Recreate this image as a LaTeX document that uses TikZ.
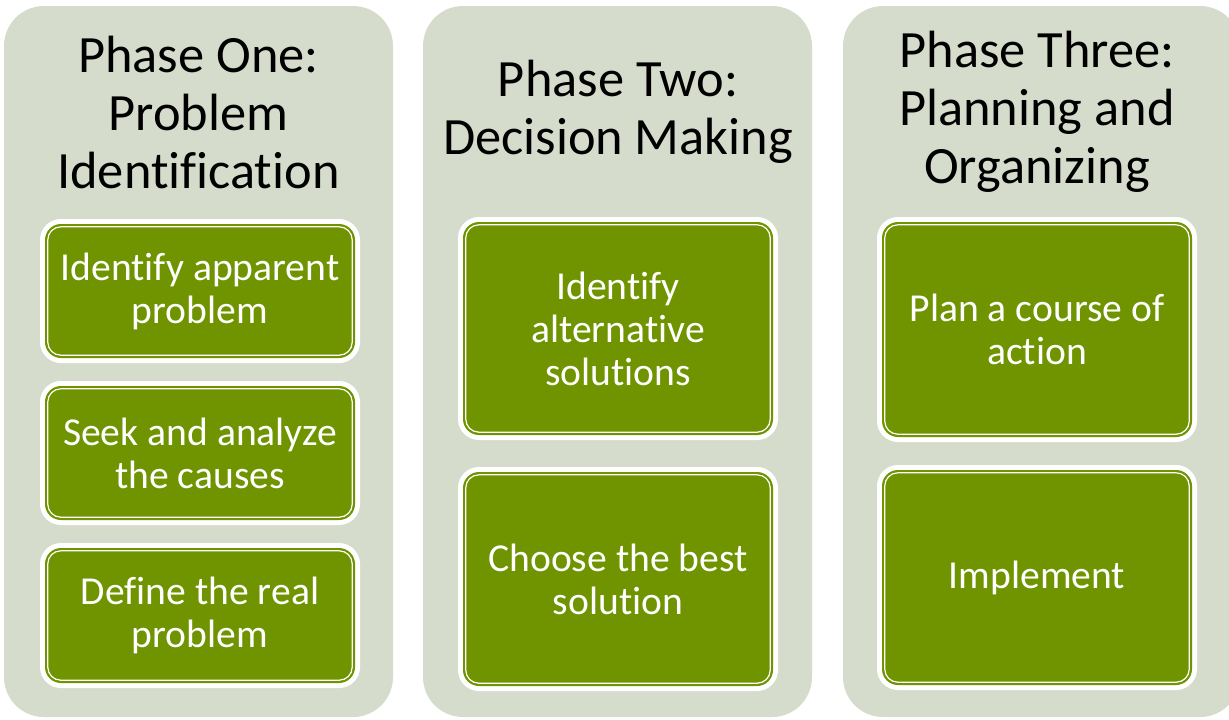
\documentclass[tikz,border=0pt]{standalone}
\usepackage{fontspec}
\setmainfont[Ligatures={NoCommon}]{Carlito}
\definecolor{panelc}{HTML}{D6DCCC}
\definecolor{stepgreen}{HTML}{6F9400}
\newcommand\gbox[6]{% name, cx, cy, width (px), height (px), text
  \node[stepbox, minimum width=#4*0.5pt, minimum height=#5*0.5pt] (#1) at (#2,#3) {#6};
  \draw[innerline] ([xshift=1.6pt,yshift=-1.6pt]#1.north west) rectangle ([xshift=-1.6pt,yshift=1.6pt]#1.south east);
}
\begin{document}
\begin{tikzpicture}[x=0.5pt,y=-0.5pt,
  panel/.style={fill=panelc, rounded corners=20pt},
  title/.style={align=center, font=\fontsize{26.2pt}{29pt}\selectfont, text=black},
  stepbox/.style={fill=stepgreen, rounded corners=8pt, inner sep=0pt,
    preaction={draw=white, line width=5pt},
    align=center, text=white, font=\fontsize{19.8pt}{21.5pt}\selectfont},
  innerline/.style={draw=white, line width=0.6pt, rounded corners=6.5pt}]
\useasboundingbox (0,0) rectangle (1229,719);
\fill[white] (0,0) rectangle (1229,719);

% three phase panels
\fill[panel] (4,6) rectangle (393,717);
\fill[panel] (423,6) rectangle (812,717);
\fill[panel] (843,6) rectangle (1240,717);

% titles
\node[title] (t1) at (198.5,112) {Phase One:\\Problem\\Identification};
\node[title] (t2) at (618,112) {Phase Two:\\Decision Making};
\node[title] (t3) at (1037,112) {Phase Three:\\Planning and\\Organizing};

% phase one steps
\gbox{a1}{200}{291}{310}{134}{Identify apparent\\problem}
\gbox{a2}{200}{453}{310}{134}{Seek and analyze\\the causes}
\gbox{a3}{200}{615.5}{310}{135}{Define the real\\problem}

% phase two steps
\gbox{b1}{618}{328.5}{310}{213}{Identify\\alternative\\solutions}
\gbox{b2}{618}{579}{310}{214}{Choose the best\\solution}

% phase three steps
\gbox{c1}{1037}{329.5}{310}{215}{Plan a course of\\action}
\gbox{c2}{1037}{577.5}{310}{215}{Implement}
\end{tikzpicture}
\end{document}
